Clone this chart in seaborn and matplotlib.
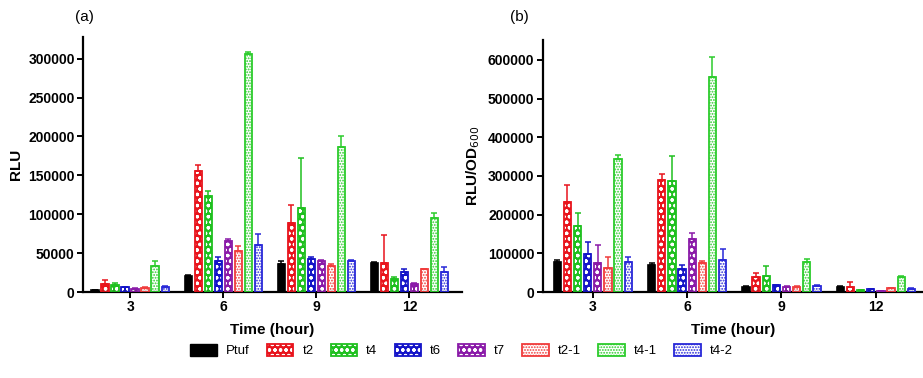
import numpy as np
import pandas as pd
import matplotlib
matplotlib.use("Agg")
import matplotlib.pyplot as plt
import seaborn as sns
from matplotlib.patches import Patch, Rectangle
from matplotlib.legend_handler import HandlerTuple

sns.set_theme(style="ticks")
plt.rcParams["font.family"] = ["Liberation Sans", "DejaVu Sans"]
plt.rcParams["hatch.linewidth"] = 0.9
plt.rcParams.update({"text.color": "black", "axes.labelcolor": "black",
                     "xtick.color": "black", "ytick.color": "black"})

# %% data
times = ["3", "6", "9", "12"]
strains = ["Ptuf", "t2", "t4", "t6", "t7", "t2-1", "t4-1", "t4-2"]
colors = ["#000000", "#e8141c", "#1fc01f", "#1414c8", "#8a1aa8", "#f03c3c", "#2ccc2c", "#2828d8"]

# panel (a): RLU, one list per strain (times 3, 6, 9, 12)
rlu_mean = {
    "Ptuf": [2000, 20000, 36000, 37000],
    "t2":   [10000, 155000, 89000, 37000],
    "t4":   [9000, 123000, 108000, 17000],
    "t6":   [6000, 40000, 43000, 26000],
    "t7":   [4000, 65000, 40000, 10000],
    "t2-1": [5000, 53000, 33000, 29000],
    "t4-1": [33000, 306000, 186000, 95000],
    "t4-2": [7000, 60000, 40000, 26000],
}
rlu_err = {
    "Ptuf": [500, 1500, 4000, 1500],
    "t2":   [5000, 8000, 23000, 36000],
    "t4":   [3000, 7000, 64000, 2000],
    "t6":   [1000, 5000, 1500, 3000],
    "t7":   [1000, 3000, 1500, 2000],
    "t2-1": [1000, 6000, 3000, 1000],
    "t4-1": [7000, 2000, 15000, 6000],
    "t4-2": [1000, 15000, 1500, 6000],
}

# panel (b): RLU/OD600
od_mean = {
    "Ptuf": [78000, 69000, 14000, 13000],
    "t2":   [232000, 290000, 38000, 14000],
    "t4":   [170000, 287000, 42000, 4000],
    "t6":   [99000, 60000, 17000, 7000],
    "t7":   [75000, 137000, 14000, 2000],
    "t2-1": [63000, 75000, 13000, 10000],
    "t4-1": [343000, 557000, 78000, 39000],
    "t4-2": [77000, 84000, 16000, 9000],
}
od_err = {
    "Ptuf": [4000, 7000, 2000, 1500],
    "t2":   [44000, 15000, 10000, 13000],
    "t4":   [34000, 64000, 24000, 1000],
    "t6":   [30000, 10000, 1500, 2000],
    "t7":   [47000, 15000, 1500, 500],
    "t2-1": [27000, 5000, 1500, 1500],
    "t4-1": [11000, 51000, 7000, 2000],
    "t4-2": [13000, 26000, 1500, 1500],
}

solid = {"Ptuf"}
checker = {"t2", "t4", "t6", "t7"}
CHECK_HATCH = "ooo"
FINE_HATCH = "......"


def to_long(means, errs):
    rows = []
    for s in strains:
        for i, t in enumerate(times):
            rows.append({"time": t, "strain": s, "value": means[s][i], "err": errs[s][i]})
    return pd.DataFrame(rows)


def draw_panel(ax, df, xlim, ylim, yticks, ylabel):
    sns.barplot(data=df, x="time", y="value", hue="strain", order=times,
                hue_order=strains, palette=colors, width=0.86, gap=0.28,
                errorbar=None, legend=False, ax=ax)
    # seaborn adds patches hue by hue, time by time
    for k, p in enumerate(list(ax.patches)):
        s = strains[k // len(times)]
        ti = k % len(times)
        c = colors[strains.index(s)]
        row = df[(df.strain == s) & (df.time == times[ti])].iloc[0]
        x0, w, h = p.get_x(), p.get_width(), p.get_height()
        if s in solid:
            p.set_facecolor(c)
            p.set_edgecolor(c)
            p.set_linewidth(1.2)
        elif s in checker:
            p.set_facecolor(c)
            p.set_edgecolor("white")
            p.set_hatch(CHECK_HATCH)
            p.set_linewidth(0)
            ax.add_patch(Rectangle((x0, 0), w, h, facecolor="none", edgecolor=c, lw=1.3, zorder=3))
        else:
            p.set_facecolor("white")
            p.set_edgecolor(c)
            p.set_hatch(FINE_HATCH)
            p.set_linewidth(0)
            ax.add_patch(Rectangle((x0, 0), w, h, facecolor="none", edgecolor=c, lw=1.3, zorder=3))
        ax.errorbar(x0 + w / 2, h, yerr=[[0], [row["err"]]], color=c, lw=1.1,
                    capsize=2, capthick=1.1, zorder=4)
    ax.set_xlim(*xlim)
    ax.set_ylim(*ylim)
    ax.set_yticks(yticks)
    ax.set_yticklabels([str(v) for v in yticks])
    ax.set_xlabel("Time (hour)", fontsize=11, fontweight="bold", labelpad=6)
    ax.set_ylabel(ylabel, fontsize=11, fontweight="bold", labelpad=4)
    for lbl in ax.get_xticklabels() + ax.get_yticklabels():
        lbl.set_fontweight("bold")
        lbl.set_fontsize(10)
    sns.despine(ax=ax)
    for sp in ["left", "bottom"]:
        ax.spines[sp].set_linewidth(1.6)
        ax.spines[sp].set_color("black")
    ax.tick_params(axis="both", width=1.4, length=4, color="black", labelcolor="black", pad=2)


fig = plt.figure(figsize=(9.23, 3.78), dpi=100)
ax_a = fig.add_axes([0.09, 0.2275, 0.41, 0.675])
ax_b = fig.add_axes([0.588, 0.2275, 0.412, 0.667])

draw_panel(ax_a, to_long(rlu_mean, rlu_err), (-0.505, 3.56), (0, 328000),
           [0, 50000, 100000, 150000, 200000, 250000, 300000], "RLU")
draw_panel(ax_b, to_long(od_mean, od_err), (-0.53, 3.5), (0, 652000),
           [0, 100000, 200000, 300000, 400000, 500000, 600000], "RLU/OD$_{600}$")

fig.text(0.081, 0.955, "(a)", fontsize=11, va="center")
fig.text(0.553, 0.955, "(b)", fontsize=11, va="center")

handles = []
for s, c in zip(strains, colors):
    if s in solid:
        handles.append(Patch(facecolor=c, edgecolor=c))
    elif s in checker:
        handles.append((Patch(facecolor=c, edgecolor="white", hatch=CHECK_HATCH, lw=0),
                        Patch(facecolor="none", edgecolor=c, lw=1.3)))
    else:
        handles.append((Patch(facecolor="white", edgecolor=c, hatch=FINE_HATCH, lw=0),
                        Patch(facecolor="none", edgecolor=c, lw=1.3)))
fig.legend(handles, strains, loc="center", bbox_to_anchor=(0.5, 0.073), ncol=8,
           frameon=False, fontsize=9.5, handlelength=2.0, handleheight=1.0,
           columnspacing=1.3, handletextpad=0.7,
           handler_map={tuple: HandlerTuple(ndivide=1)})

fig.savefig("out.png", dpi=100)
